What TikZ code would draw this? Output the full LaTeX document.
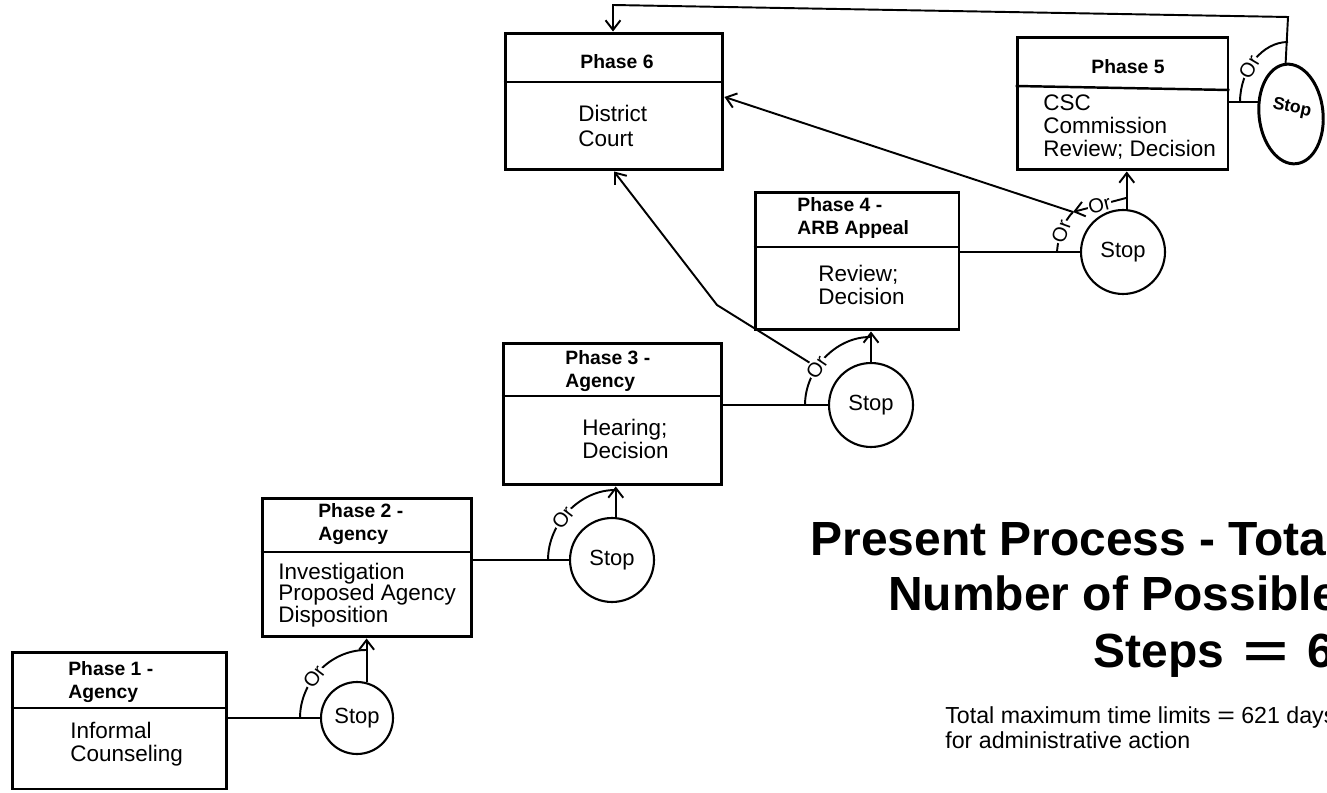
\documentclass[tikz,border=0pt]{standalone}
\usepackage{fontspec}
\setmainfont{Liberation Sans}
\usepackage{graphicx}
\usetikzlibrary{arrows.meta,calc,shapes.geometric}
\begin{document}
\begin{tikzpicture}[x=0.02cm,y=-0.02cm,
  box/.style={draw, line width=1.7pt, rectangle, inner sep=0pt},
  divline/.style={line width=1.4pt},
  conn/.style={line width=1.1pt},
  arr/.style={line width=1.1pt, -{Straight Barb[length=5.5pt,width=8.5pt,line width=1.1pt]}},
  stopc/.style={draw, circle, line width=1.2pt, inner sep=0pt, font=\fontsize{12.5}{14}\selectfont},
  hdr/.style={font=\fontsize{11}{12.8}\selectfont\bfseries, align=left, inner sep=0pt, anchor=west},
  bodyt/.style={font=\fontsize{12.8}{12.8}\selectfont, align=left, inner sep=0pt, anchor=west},
  orl/.style={font=\fontsize{11.5}{12}\selectfont, fill=white, inner sep=0.4pt, sloped},
  titl/.style={font=\fontsize{27.3}{31}\selectfont\bfseries, inner sep=0pt, anchor=base west},
  subt/.style={font=\fontsize{13.2}{14}\selectfont, inner sep=0pt, anchor=base west},
]
\clip (0,0) rectangle (1327,793);
\fill[white] (0,0) rectangle (1327,793);

% boxes
\node[box, minimum width=4.30cm, minimum height=2.74cm] (p1) at (119.5,720.5) {};
\node[box, minimum width=4.20cm, minimum height=2.78cm] (p2) at (367,567.5) {};
\node[box, minimum width=4.38cm, minimum height=2.84cm] (p3) at (612.5,414) {};
\node[box, minimum width=4.08cm, minimum height=2.76cm] (p4) at (857,261) {};
\node[box, minimum width=4.22cm, minimum height=2.66cm] (p5) at (1122.5,103.5) {};
\node[box, minimum width=4.36cm, minimum height=2.74cm] (p6) at (614,101.5) {};

% dividers
\draw[divline] (p1.west |- 0,708) -- (p1.east |- 0,708);
\draw[divline] (p2.west |- 0,552) -- (p2.east |- 0,552);
\draw[divline] (p3.west |- 0,396) -- (p3.east |- 0,396);
\draw[divline] (p4.west |- 0,247) -- (p4.east |- 0,247);
\draw[divline] (p5.west |- 0,86) -- (p5.east |- 0,90);
\draw[divline] (p6.west |- 0,82) -- (p6.east |- 0,82);

% box texts
\node[hdr] (h1) at (68,682) {Phase 1 -\\Agency};
\node[bodyt] (b1) at (70,744) {Informal\\Counseling};
\node[hdr] (h2) at (318,524) {Phase 2 -\\Agency};
\node[bodyt, font=\fontsize{12.8}{12.3}\selectfont] (b2) at (278,595) {Investigation\\Proposed Agency\\Disposition};
\node[hdr] (h3) at (565,371) {Phase 3 -\\Agency};
\node[bodyt, font=\fontsize{12.8}{13.2}\selectfont] (b3) at (582,439) {Hearing;\\Decision};
\node[hdr] (h4) at (797,218) {Phase 4 -\\ARB Appeal};
\node[bodyt] (b4) at (818,285) {Review;\\Decision};
\node[hdr, anchor=center] (h5) at (1128,67) {Phase 5};
\node[bodyt, font=\fontsize{12.8}{13.3}\selectfont] (b5) at (1043,127) {CSC\\Commission\\Review; Decision};
\node[hdr, anchor=center] (h6) at (617,62) {Phase 6};
\node[bodyt, font=\fontsize{12.8}{13.8}\selectfont] (b6) at (578,126) {District\\Court};

% stop circles
\node[stopc, minimum size=1.44cm] (s1) at (357,718) {Stop};
\node[stopc, minimum size=1.68cm] (s2) at (612,560) {Stop};
\node[stopc, minimum size=1.68cm] (s3) at (871,405) {Stop};
\node[stopc, minimum size=1.68cm] (s4) at (1123,252) {Stop};
\node[draw, ellipse, line width=1.7pt, minimum width=1.28cm, minimum height=2.0cm, inner sep=0pt, rotate=6] (s5) at (1291,114) {};
\node[font=\fontsize{10}{11}\selectfont\bfseries, rotate=-12, inner sep=0pt] (s5t) at (1292,108) {Stop};

% phase -> stop lines
\draw[conn] (p1.east |- s1) -- (s1.west);
\draw[conn] (p2.east |- s2) -- (s2.west);
\draw[conn] (p3.east |- s3) -- (s3.west);
\draw[conn] (p4.east |- s4) -- (s4.west);
\coordinate (s5w) at (1259,102);
\draw[conn] (p5.east |- s5w) -- (s5w);

% stop -> next phase arrows
\draw[arr] (s1.75) -- (s1.75 |- p2.south);
\draw[arr] (s2.85) -- (s2.85 |- p3.south);
\draw[arr] (s3.north) -- (s3.north |- p4.south);
\draw[arr] (s4.85) -- (s4.85 |- p5.south);

% Or arcs
\coordinate (o1a) at (300,718); \coordinate (o1b) at (366,650);
\draw[conn] (o1a) .. controls (300,682) and (330,650) .. (o1b) node[orl, pos=0.42] {Or};
\coordinate (o2a) at (548,560); \coordinate (o2b) at (615,490);
\draw[conn] (o2a) .. controls (548,523) and (580,490) .. (o2b) node[orl, pos=0.42] {Or};
\coordinate (o3a) at (805,405); \coordinate (o3b) at (870,337);
\draw[conn] (o3a) .. controls (805,369) and (836,337) .. (o3b) node[orl, pos=0.38] (or3) {Or};
\coordinate (bend3) at (717,305);
\draw[arr] (or3) -- (bend3) -- (p6.south);

% stop 4 branch
\coordinate (o4a) at (1057,252); \coordinate (j4) at (1073,212);
\draw[conn] (o4a) .. controls (1058,236) and (1064,221) .. (j4) node[orl, pos=0.45] {Or};
\coordinate (k4) at (1126,198);
\draw[arr] (k4) -- node[orl, pos=0.5] {Or} (j4);
\draw[arr] (j4) -- (p6.east |- 0,97);

% stop 5 branch
\coordinate (o5a) at (1240,102); \coordinate (o5b) at (1288,42);
\draw[conn] (o5a) .. controls (1240,70) and (1262,42) .. (o5b) node[orl, pos=0.4] {Or};
\coordinate (t5) at (1288,17); \coordinate (t6) at (613,5);
\draw[arr] (s5.north) -- (t5) -- (t6) -- (t6 |- p6.north);

% title
\node[titl] (ti1) at (810,555) {Present Process - Total};
\node[titl] (ti2) at (888,610) {Number of Possible};
\node[titl] (ti3) at (1093,667) {Steps\hspace{0.4em}\scalebox{1.6}[1]{=}\hspace{0.4em}6};
\node[subt] (su1) at (945,723) {Total maximum time limits \scalebox{1.3}[1]{=} 621 days};
\node[subt] (su2) at (945,748) {for administrative action};
\end{tikzpicture}
\end{document}
